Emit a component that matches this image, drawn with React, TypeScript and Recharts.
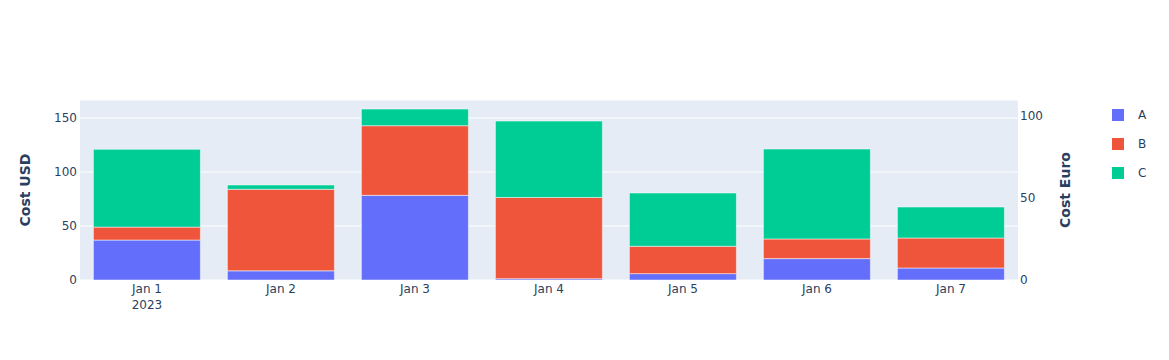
import { BarChart, Bar, XAxis, YAxis, CartesianGrid } from "recharts"

const days = ["Jan 1", "Jan 2", "Jan 3", "Jan 4", "Jan 5", "Jan 6", "Jan 7"]
const costA = [37, 8.5, 78.4, 1.2, 5.9, 19.8, 11.1]
const costB = [12, 75.5, 64.5, 75.3, 25.3, 18.2, 27.8]
const costC = [72, 4, 15.4, 70.7, 49.4, 83.3, 28.7]
const usdTicks = [0, 50, 100, 150]
const euroTicks = [0, 50, 100]

const series = [
  { key: "A", color: "#636efa" },
  { key: "B", color: "#EF553B" },
  { key: "C", color: "#00cc96" },
]

const data = days.map((day, i) => ({ day, A: costA[i], B: costB[i], C: costC[i] }))

const font = '"DejaVu Sans", verdana, sans-serif'
const ink = "#2a3f5f"

function DayTick(props: any) {
  const { x, y, payload, index } = props
  return (
    <g>
      <text x={x} y={y + 5} textAnchor="middle" fill={ink} fontSize={12} fontFamily={font}>
        {payload.value}
      </text>
      {index === 0 && (
        <text x={x} y={y + 21} textAnchor="middle" fill={ink} fontSize={12} fontFamily={font}>
          2023
        </text>
      )}
    </g>
  )
}

function LegendBox() {
  return (
    <div style={{ position: "absolute", left: 1112, top: 100, fontFamily: font, fontSize: 12, color: ink }}>
      {series.map((s) => (
        <div key={s.key} style={{ display: "flex", alignItems: "center", height: 29 }}>
          <span style={{ width: 12, height: 12, background: s.color, display: "inline-block" }} />
          <span style={{ marginLeft: 14 }}>{s.key}</span>
        </div>
      ))}
    </div>
  )
}

function AxisTitle({ x, y, text }: { x: number; y: number; text: string }) {
  return (
    <text
      x={x}
      y={y}
      transform={`rotate(-90 ${x} ${y})`}
      textAnchor="middle"
      dominantBaseline="central"
      fill={ink}
      fontSize={14}
      fontWeight="bold"
      fontFamily={font}
    >
      {text}
    </text>
  )
}

export default function App() {
  return (
    <div style={{ position: "absolute", left: 0, top: 0, width: 1169, height: 360, background: "#fff" }}>
      <BarChart
        width={1169}
        height={360}
        data={data}
        margin={{ top: 100, right: 111, bottom: 40, left: 20 }}
        barCategoryGap="10%"
      >
        <CartesianGrid yAxisId="usd" vertical={false} fill="#E5ECF6" stroke="#fff" strokeWidth={1} />
        <XAxis
          dataKey="day"
          height={40}
          tick={<DayTick />}
          tickLine={false}
          axisLine={false}
          interval={0}
        />
        <YAxis
          yAxisId="usd"
          orientation="left"
          width={60}
          domain={[0, 166.7]}
          ticks={usdTicks}
          allowDataOverflow
          tickLine={false}
          axisLine={false}
          tickSize={0}
          tickMargin={3}
          tick={{ fill: ink, fontSize: 12, fontFamily: font }}
          label={({ viewBox }: any) => (
            <AxisTitle x={25} y={viewBox.y + viewBox.height / 2} text="Cost USD" />
          )}
        />
        <YAxis
          yAxisId="euro"
          orientation="right"
          width={40}
          domain={[0, 109.8]}
          ticks={euroTicks}
          allowDataOverflow
          tickLine={false}
          axisLine={false}
          tickSize={0}
          tickMargin={2}
          tick={{ fill: ink, fontSize: 12, fontFamily: font }}
          label={({ viewBox }: any) => (
            <AxisTitle x={1065} y={viewBox.y + viewBox.height / 2} text="Cost Euro" />
          )}
        />
        {series.map((s) => (
          <Bar
            key={s.key}
            dataKey={s.key}
            yAxisId="usd"
            stackId="cost"
            fill={s.color}
            stroke="#fff"
            strokeWidth={0.5}
            isAnimationActive={false}
          />
        ))}
      </BarChart>
      <LegendBox />
    </div>
  )
}
